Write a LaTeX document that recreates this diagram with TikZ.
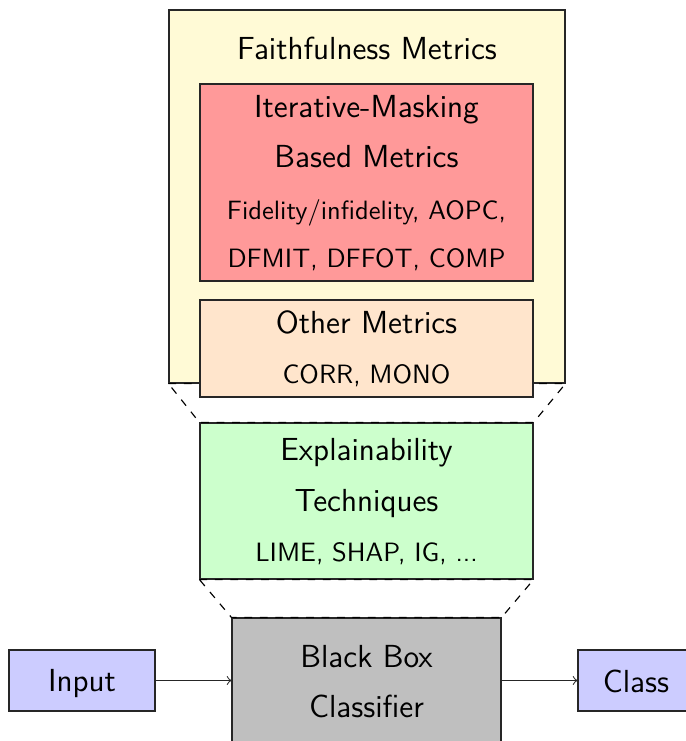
\documentclass[tikz,border=0pt]{standalone}
\newcommand\pxu{0.3885pt}
\definecolor{creamyellow}{RGB}{255,250,214}
\begin{document}
\begin{tikzpicture}[x=0.3885pt,y=-0.3885pt,
  box/.style={draw=black!85, line width=0.45pt, rectangle, inner sep=0pt},
  big/.style={font=\fontsize{12.4}{14}\selectfont\sffamily, inner sep=0pt, anchor=base},
  small/.style={font=\fontsize{10.3}{12}\selectfont\sffamily, inner sep=0pt, anchor=base},
  zoomline/.style={dashed, line width=0.45pt},
  flow/.style={->, draw=black!85, line width=0.4pt}]
\useasboundingbox (0,0) rectangle (686,741);
\begin{scope}
\clip (0,0) rectangle (686,741);
% outer group of metrics
\node[box, fill=creamyellow, minimum width=396*\pxu, minimum height=373*\pxu] (faith) at (367,196.5) {};
\node[box, fill=red!40, minimum width=333*\pxu, minimum height=197*\pxu] (iter) at (366.5,182.5) {};
% explainability and model
\node[box, fill=green!20, minimum width=333*\pxu, minimum height=156*\pxu] (expl) at (366.5,501) {};
\node[box, fill=black!25, minimum width=269*\pxu, minimum height=129*\pxu] (bb) at (366.5,682.5) {};
\node[box, fill=blue!20, minimum width=146*\pxu, minimum height=61*\pxu] (inp) at (82,680.5) {};
\node[box, fill=blue!20, minimum width=116*\pxu, minimum height=61*\pxu] (cls) at (636,680.5) {};
% zoom-out trapezoids between the levels
\draw[zoomline] (faith.south west) -- (faith.south east) -- (expl.north east) -- (expl.north west) -- cycle;
\draw[zoomline] (expl.south west) -- (expl.south east) -- (bb.north east) -- (bb.north west) -- cycle;
\node[box, fill=orange!20, minimum width=333*\pxu, minimum height=97*\pxu] (other) at (366.5,348.5) {};
% data flow
\draw[flow] (inp.east) -- (inp.east -| bb.west);
\draw[flow] (cls.west -| bb.east) -- (cls.west);
% labels
\node[big] (tfaith) at (367,59) {Faithfulness Metrics};
\node[big] (titer1) at (366.5,117.5) {Iterative-Masking};
\node[big] (titer2) at (366.5,167.5) {Based Metrics};
\node[small] (titer3) at (366.5,219) {Fidelity/infidelity, AOPC,};
\node[small] (titer4) at (366.5,267) {DFMIT, DFFOT, COMP};
\node[big] (tother1) at (366.5,333) {Other Metrics};
\node[small] (tother2) at (366.5,383) {CORR, MONO};
\node[big] (texpl1) at (366.5,460.5) {Explainability};
\node[big] (texpl2) at (366.5,511) {Techniques};
\node[small] (texpl3) at (366.5,561) {LIME, SHAP, IG, ...};
\node[big] (tbb1) at (366.5,667.5) {Black Box};
\node[big] (tbb2) at (366.5,717.5) {Classifier};
\node[big] (tinp) at (82,691) {Input};
\node[big] (tcls) at (636,692) {Class};
\end{scope}
\end{tikzpicture}
\end{document}
